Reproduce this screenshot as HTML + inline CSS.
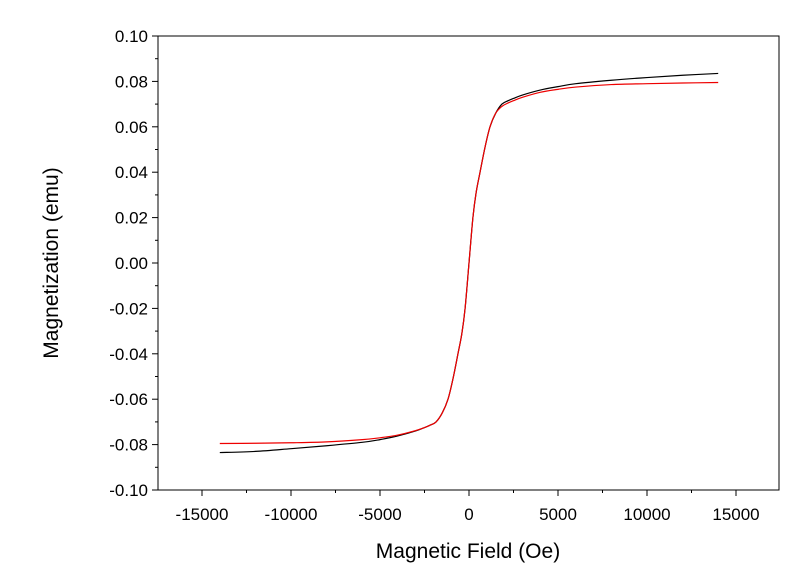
<!DOCTYPE html>
<html><head><meta charset="utf-8"><style>
body{margin:0;background:#fff;font-family:"Liberation Sans",Arial,sans-serif}
svg text{font-family:"Liberation Sans",Arial,sans-serif}
</style></head><body>
<svg id="chart" width="800" height="580">
<rect width="800" height="580" fill="#fff"/>
<g id="axes"></g><g id="series"></g>
<text x="468" y="558" font-size="21" text-anchor="middle">Magnetic Field (Oe)</text>
<text transform="translate(58,263) rotate(-90)" font-size="21" text-anchor="middle">Magnetization (emu)</text>
</svg>
<script>
const fields=[-14000,-12000,-10000,-8000,-6000,-5000,-4000,-3000,-2500,-2200,-1850,-1500,-1180,-900,-620,-400,-220,0,220,400,620,900,1180,1500,1850,2200,2500,3000,4000,5000,6000,8000,10000,12000,14000];
const blackM=[-0.0835,-0.083,-0.0818,-0.0805,-0.079,-0.0778,-0.0762,-0.074,-0.0725,-0.0715,-0.07,-0.066,-0.06,-0.051,-0.04,-0.031,-0.02,0.0,0.02,0.031,0.04,0.051,0.06,0.066,0.07,0.0715,0.0725,0.074,0.0762,0.0777,0.079,0.0805,0.0817,0.0827,0.0835];
const redM=[-0.0795,-0.0794,-0.0792,-0.0788,-0.0778,-0.077,-0.0758,-0.0738,-0.0725,-0.0715,-0.07,-0.066,-0.06,-0.051,-0.04,-0.031,-0.02,0.0,0.02,0.031,0.04,0.051,0.06,0.066,0.069,0.0705,0.0715,0.073,0.0752,0.0765,0.0775,0.0786,0.079,0.0793,0.0795];
const xTicks=[-15000,-10000,-5000,0,5000,10000,15000];
const yTicks=[-0.10,-0.08,-0.06,-0.04,-0.02,0.00,0.02,0.04,0.06,0.08,0.10];
const L=158,R=779,T=36,B=490;
const X=v=>469+v*534/30000;
const Y=v=>263-v*2270;
const NS='http://www.w3.org/2000/svg';
function mk(t,a,p){const e=document.createElementNS(NS,t);for(const k in a)e.setAttribute(k,a[k]);p.appendChild(e);return e;}
const ax=document.getElementById('axes');
const frame=mk('rect',{x:L,y:T,width:R-L,height:B-T,fill:'none',stroke:'#000','stroke-width':1},ax);


xTicks.forEach(v=>{const x=X(v);
 mk('line',{x1:x,x2:x,y1:B,y2:B+6,stroke:'#000'},ax);
 const t=mk('text',{x:x,y:B+30,'font-size':17,'text-anchor':'middle'},ax);t.textContent=v;
 
 
 if(v<15000){const m=X(v+2500);if(m<R)mk('line',{x1:m,x2:m,y1:B,y2:B+3,stroke:'#000'},ax);}
});
yTicks.forEach(v=>{const y=Y(v);
 mk('line',{x1:L-6,x2:L,y1:y,y2:y,stroke:'#000'},ax);
 const t=mk('text',{x:L-10,y:y+6,'font-size':17,'text-anchor':'end'},ax);t.textContent=v.toFixed(2);
 
 
 if(v<0.1){const m=Y(v+0.01);mk('line',{x1:L-3,x2:L,y1:m,y2:m,stroke:'#000'},ax);}
});
function smooth(pts){let d='M'+pts[0][0]+','+pts[0][1];
 for(let i=0;i<pts.length-1;i++){const p0=pts[i-1]||pts[i],p1=pts[i],p2=pts[i+1],p3=pts[i+2]||p2;
  const c1=[p1[0]+(p2[0]-p0[0])/6,p1[1]+(p2[1]-p0[1])/6],c2=[p2[0]-(p3[0]-p1[0])/6,p2[1]-(p3[1]-p1[1])/6];
  d+=' C'+c1+' '+c2+' '+p2;}
 return d;}
const sg=document.getElementById('series');
[[blackM,'#000','black-curve'],[redM,'#e00','red-curve']].forEach(([d,c,n])=>{
 const p=mk('path',{d:smooth(fields.map((f,i)=>[X(f),Y(d[i])])),fill:'none',stroke:c,'stroke-width':1.2},sg);
 
 
});
</script>
</body></html>
